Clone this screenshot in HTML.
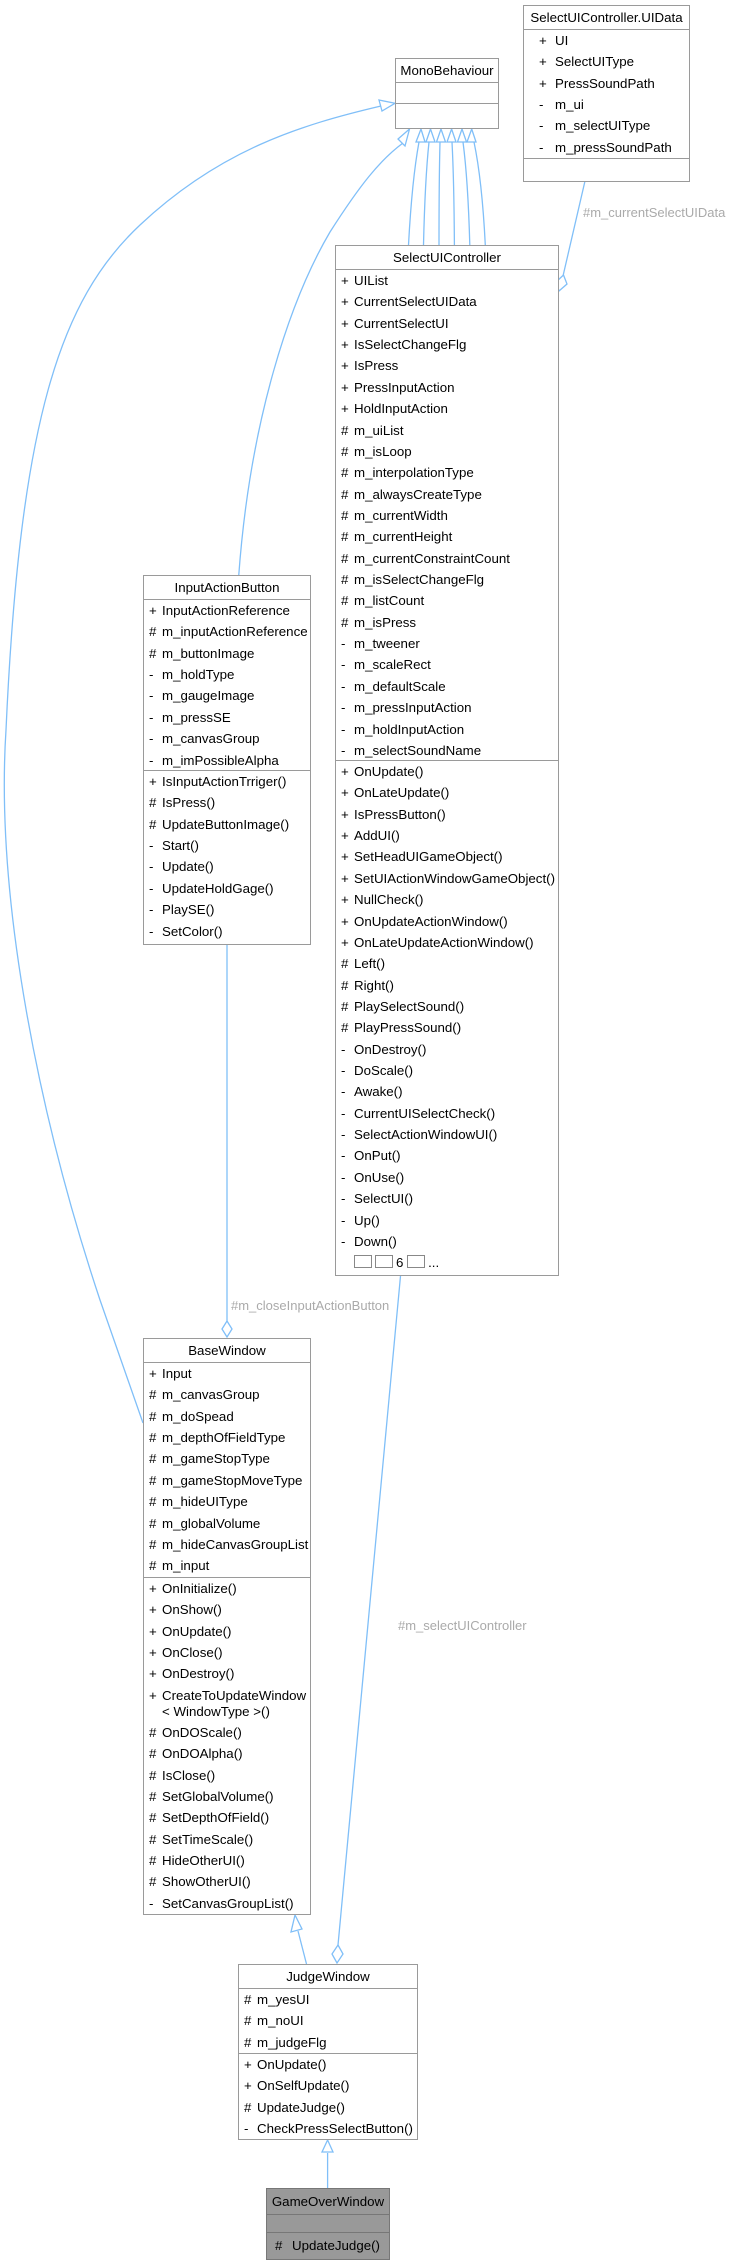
<!DOCTYPE html>
<html><head><meta charset="utf-8"><style>
body{margin:0;width:730px;height:2264px;background:#fff;position:relative;overflow:hidden;font-family:"Liberation Sans",sans-serif;font-size:13.3px;color:#000}
.b{position:absolute;border:1.5px solid #9a9a9a;box-sizing:border-box;background:#fff}
.h{height:24px;line-height:24px;text-align:center;border-bottom:1.5px solid #9a9a9a;box-sizing:border-box;white-space:nowrap}
.s{border-bottom:1.5px solid #9a9a9a;box-sizing:border-box}
.r{height:21.36px;line-height:21.36px;white-space:nowrap;position:relative}
.p{position:absolute;left:5px}
.n{position:absolute;left:18px}
.lbl{position:absolute;color:#aaa;font-size:13px;white-space:nowrap}
.q{display:inline-block;width:16px;height:11px;border:1px solid #888;vertical-align:-1px;margin-right:3px}
svg{position:absolute;left:0;top:0}
</style></head><body>
<svg width="730" height="2264">
<g fill="none" stroke="#80bff8" stroke-width="1.3">
<path d="M143,1423 L100,1300 C40,1120 -5,900 6,730 C20,420 60,300 140,225 C220,150 300,125 381,106"/>
<path d="M238.7,576 C250,420 290,300 330,232 C360,185 380,160 403,143"/>
<path d="M408.5,245 Q412,180 419,142"/><path d="M423.5,245 Q425,180 429,142"/>
<path d="M439,245 Q439,180 440,142"/><path d="M454.4,245 Q454,180 452,142"/>
<path d="M469.8,245 Q468,180 463,142"/><path d="M485.3,245 Q482,180 474,142"/>
<path d="M585,181 L563,276"/>
<path d="M227,944 L227,1321"/>
<path d="M400.6,1275 L338,1945"/>
<path d="M306.5,1964 L298,1931"/>
<path d="M327.6,2188 L327.6,2153"/>
</g>
<g fill="#fff" stroke="#80bff8" stroke-width="1.3">
<polygon points="395,103.3 379,100 382,111"/>
<polygon points="409.5,129 398,139 405,146"/>
<polygon points="421,129 416,142 425,142"/><polygon points="430.5,129 426,142 435,142"/>
<polygon points="441,129 436.5,142 445.5,142"/><polygon points="451.6,129 447,142 456,142"/>
<polygon points="462,129 457.5,142 466.5,142"/><polygon points="471.7,129 467,142 476,142"/>
<polygon points="563.5,275 567,284 559,291 556,282"/>
<polygon points="227,1321 232,1329 227,1337 222,1329"/>
<polygon points="338,1945 343,1954 337,1963 332,1954"/>
<polygon points="295,1915 291,1932 302,1929"/>
<polygon points="327.6,2140 322,2152 333,2152"/>
</g>
</svg>

<div class="lbl" style="left:583px;top:205px">#m_currentSelectUIData</div>
<div class="lbl" style="left:231px;top:1298px">#m_closeInputActionButton</div>
<div class="lbl" style="left:398px;top:1618px">#m_selectUIController</div>

<div class="b" style="left:395px;top:58px;width:104px;height:71px">
<div class="h">MonoBehaviour</div><div class="s" style="height:21px"></div></div>

<div class="b" style="left:523px;top:5px;width:167px;height:177px">
<div class="h">SelectUIController.UIData</div>
<div class="s" style="height:129px;padding-top:0">
<div class="r"><span class="p" style="left:15px">+</span><span class="n" style="left:31px">UI</span></div>
<div class="r"><span class="p" style="left:15px">+</span><span class="n" style="left:31px">SelectUIType</span></div>
<div class="r"><span class="p" style="left:15px">+</span><span class="n" style="left:31px">PressSoundPath</span></div>
<div class="r"><span class="p" style="left:15px">-</span><span class="n" style="left:31px">m_ui</span></div>
<div class="r"><span class="p" style="left:15px">-</span><span class="n" style="left:31px">m_selectUIType</span></div>
<div class="r"><span class="p" style="left:15px">-</span><span class="n" style="left:31px">m_pressSoundPath</span></div>
</div></div>

<div class="b" style="left:335px;top:245px;width:224px;height:1031px">
<div class="h">SelectUIController</div>
<div class="s" style="height:491px">
<div class="r"><span class="p">+</span><span class="n">UIList</span></div>
<div class="r"><span class="p">+</span><span class="n">CurrentSelectUIData</span></div>
<div class="r"><span class="p">+</span><span class="n">CurrentSelectUI</span></div>
<div class="r"><span class="p">+</span><span class="n">IsSelectChangeFlg</span></div>
<div class="r"><span class="p">+</span><span class="n">IsPress</span></div>
<div class="r"><span class="p">+</span><span class="n">PressInputAction</span></div>
<div class="r"><span class="p">+</span><span class="n">HoldInputAction</span></div>
<div class="r"><span class="p">#</span><span class="n">m_uiList</span></div>
<div class="r"><span class="p">#</span><span class="n">m_isLoop</span></div>
<div class="r"><span class="p">#</span><span class="n">m_interpolationType</span></div>
<div class="r"><span class="p">#</span><span class="n">m_alwaysCreateType</span></div>
<div class="r"><span class="p">#</span><span class="n">m_currentWidth</span></div>
<div class="r"><span class="p">#</span><span class="n">m_currentHeight</span></div>
<div class="r"><span class="p">#</span><span class="n">m_currentConstraintCount</span></div>
<div class="r"><span class="p">#</span><span class="n">m_isSelectChangeFlg</span></div>
<div class="r"><span class="p">#</span><span class="n">m_listCount</span></div>
<div class="r"><span class="p">#</span><span class="n">m_isPress</span></div>
<div class="r"><span class="p">-</span><span class="n">m_tweener</span></div>
<div class="r"><span class="p">-</span><span class="n">m_scaleRect</span></div>
<div class="r"><span class="p">-</span><span class="n">m_defaultScale</span></div>
<div class="r"><span class="p">-</span><span class="n">m_pressInputAction</span></div>
<div class="r"><span class="p">-</span><span class="n">m_holdInputAction</span></div>
<div class="r"><span class="p">-</span><span class="n">m_selectSoundName</span></div>
</div>
<div>
<div class="r"><span class="p">+</span><span class="n">OnUpdate()</span></div>
<div class="r"><span class="p">+</span><span class="n">OnLateUpdate()</span></div>
<div class="r"><span class="p">+</span><span class="n">IsPressButton()</span></div>
<div class="r"><span class="p">+</span><span class="n">AddUI()</span></div>
<div class="r"><span class="p">+</span><span class="n">SetHeadUIGameObject()</span></div>
<div class="r"><span class="p">+</span><span class="n">SetUIActionWindowGameObject()</span></div>
<div class="r"><span class="p">+</span><span class="n">NullCheck()</span></div>
<div class="r"><span class="p">+</span><span class="n">OnUpdateActionWindow()</span></div>
<div class="r"><span class="p">+</span><span class="n">OnLateUpdateActionWindow()</span></div>
<div class="r"><span class="p">#</span><span class="n">Left()</span></div>
<div class="r"><span class="p">#</span><span class="n">Right()</span></div>
<div class="r"><span class="p">#</span><span class="n">PlaySelectSound()</span></div>
<div class="r"><span class="p">#</span><span class="n">PlayPressSound()</span></div>
<div class="r"><span class="p">-</span><span class="n">OnDestroy()</span></div>
<div class="r"><span class="p">-</span><span class="n">DoScale()</span></div>
<div class="r"><span class="p">-</span><span class="n">Awake()</span></div>
<div class="r"><span class="p">-</span><span class="n">CurrentUISelectCheck()</span></div>
<div class="r"><span class="p">-</span><span class="n">SelectActionWindowUI()</span></div>
<div class="r"><span class="p">-</span><span class="n">OnPut()</span></div>
<div class="r"><span class="p">-</span><span class="n">OnUse()</span></div>
<div class="r"><span class="p">-</span><span class="n">SelectUI()</span></div>
<div class="r"><span class="p">-</span><span class="n">Up()</span></div>
<div class="r"><span class="p">-</span><span class="n">Down()</span></div>
<div class="r"><span class="n"><span class="q"></span><span class="q"></span>6 <span class="q"></span>...</span></div>
</div></div>

<div class="b" style="left:143px;top:575px;width:168px;height:370px">
<div class="h">InputActionButton</div>
<div class="s" style="height:171px">
<div class="r"><span class="p">+</span><span class="n">InputActionReference</span></div>
<div class="r"><span class="p">#</span><span class="n">m_inputActionReference</span></div>
<div class="r"><span class="p">#</span><span class="n">m_buttonImage</span></div>
<div class="r"><span class="p">-</span><span class="n">m_holdType</span></div>
<div class="r"><span class="p">-</span><span class="n">m_gaugeImage</span></div>
<div class="r"><span class="p">-</span><span class="n">m_pressSE</span></div>
<div class="r"><span class="p">-</span><span class="n">m_canvasGroup</span></div>
<div class="r"><span class="p">-</span><span class="n">m_imPossibleAlpha</span></div>
</div>
<div>
<div class="r"><span class="p">+</span><span class="n">IsInputActionTrriger()</span></div>
<div class="r"><span class="p">#</span><span class="n">IsPress()</span></div>
<div class="r"><span class="p">#</span><span class="n">UpdateButtonImage()</span></div>
<div class="r"><span class="p">-</span><span class="n">Start()</span></div>
<div class="r"><span class="p">-</span><span class="n">Update()</span></div>
<div class="r"><span class="p">-</span><span class="n">UpdateHoldGage()</span></div>
<div class="r"><span class="p">-</span><span class="n">PlaySE()</span></div>
<div class="r"><span class="p">-</span><span class="n">SetColor()</span></div>
</div></div>

<div class="b" style="left:143px;top:1338px;width:168px;height:577px">
<div class="h">BaseWindow</div>
<div class="s" style="height:215px">
<div class="r"><span class="p">+</span><span class="n">Input</span></div>
<div class="r"><span class="p">#</span><span class="n">m_canvasGroup</span></div>
<div class="r"><span class="p">#</span><span class="n">m_doSpead</span></div>
<div class="r"><span class="p">#</span><span class="n">m_depthOfFieldType</span></div>
<div class="r"><span class="p">#</span><span class="n">m_gameStopType</span></div>
<div class="r"><span class="p">#</span><span class="n">m_gameStopMoveType</span></div>
<div class="r"><span class="p">#</span><span class="n">m_hideUIType</span></div>
<div class="r"><span class="p">#</span><span class="n">m_globalVolume</span></div>
<div class="r"><span class="p">#</span><span class="n">m_hideCanvasGroupList</span></div>
<div class="r"><span class="p">#</span><span class="n">m_input</span></div>
</div>
<div>
<div class="r"><span class="p">+</span><span class="n">OnInitialize()</span></div>
<div class="r"><span class="p">+</span><span class="n">OnShow()</span></div>
<div class="r"><span class="p">+</span><span class="n">OnUpdate()</span></div>
<div class="r"><span class="p">+</span><span class="n">OnClose()</span></div>
<div class="r"><span class="p">+</span><span class="n">OnDestroy()</span></div>
<div class="r" style="height:37px;line-height:16px"><span class="p" style="top:3px">+</span><span class="n" style="top:3px">CreateToUpdateWindow<br>&lt; WindowType &gt;()</span></div>
<div class="r"><span class="p">#</span><span class="n">OnDOScale()</span></div>
<div class="r"><span class="p">#</span><span class="n">OnDOAlpha()</span></div>
<div class="r"><span class="p">#</span><span class="n">IsClose()</span></div>
<div class="r"><span class="p">#</span><span class="n">SetGlobalVolume()</span></div>
<div class="r"><span class="p">#</span><span class="n">SetDepthOfField()</span></div>
<div class="r"><span class="p">#</span><span class="n">SetTimeScale()</span></div>
<div class="r"><span class="p">#</span><span class="n">HideOtherUI()</span></div>
<div class="r"><span class="p">#</span><span class="n">ShowOtherUI()</span></div>
<div class="r"><span class="p">-</span><span class="n">SetCanvasGroupList()</span></div>
</div></div>

<div class="b" style="left:238px;top:1964px;width:180px;height:176px">
<div class="h">JudgeWindow</div>
<div class="s" style="height:65px">
<div class="r"><span class="p">#</span><span class="n">m_yesUI</span></div>
<div class="r"><span class="p">#</span><span class="n">m_noUI</span></div>
<div class="r"><span class="p">#</span><span class="n">m_judgeFlg</span></div>
</div>
<div>
<div class="r"><span class="p">+</span><span class="n">OnUpdate()</span></div>
<div class="r"><span class="p">+</span><span class="n">OnSelfUpdate()</span></div>
<div class="r"><span class="p">#</span><span class="n">UpdateJudge()</span></div>
<div class="r"><span class="p">-</span><span class="n">CheckPressSelectButton()</span></div>
</div></div>

<div class="b" style="left:266px;top:2188px;width:124px;height:72px;background:#999;border-color:#777">
<div class="h" style="border-color:#777;height:26px;line-height:26px">GameOverWindow</div>
<div class="s" style="height:18px;border-color:#777"></div>
<div class="r" style="height:26px;line-height:26px"><span class="p" style="left:8px">#</span><span class="n" style="left:25px">UpdateJudge()</span></div>
</div>
</body></html>
